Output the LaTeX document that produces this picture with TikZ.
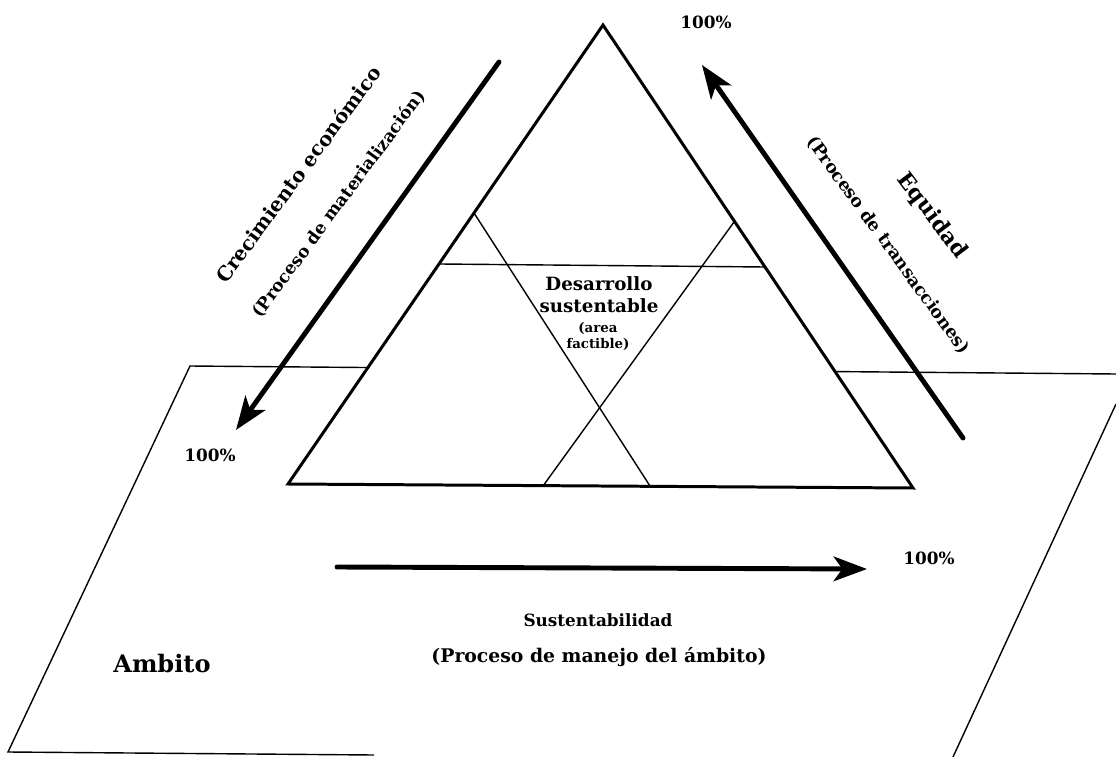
\documentclass[tikz,border=0pt]{standalone}
\usepackage{fontspec}
\setmainfont{DejaVu Serif}
\usetikzlibrary{arrows.meta}
\newcommand\myfs[1]{\bfseries\fontsize{#1}{1.2\dimexpr#1pt\relax}\selectfont}
\begin{document}
\begin{tikzpicture}[x=0.02cm,y=-0.02cm,
  thickline/.style={line width=1.7pt, line join=miter},
  thinline/.style={line width=0.8pt},
  planeline/.style={line width=0.8pt},
  bigarrow/.style={line width=2.8pt, line cap=round, -{Stealth[length=19pt,width=14pt,inset=5pt]}},
  lbl/.style={inner sep=0pt}]
\useasboundingbox (0,0) rectangle (1116,757);
% plane (ambito)
\coordinate (P1) at (190,366);
\coordinate (P2) at (1116,374);
\coordinate (P3) at (1116,404);
\coordinate (P4) at (953,757);
\coordinate (P5) at (8,752);
\coordinate (P6) at (374,755);
\draw[planeline] (P6) -- (P5) -- (P1) -- (P2);
\draw[planeline] (P3) -- (P4);
% triangle
\coordinate (A) at (603,25);
\coordinate (B) at (288,484);
\coordinate (C) at (913,488);
\draw[thickline, fill=white] (A) -- (B) -- (C) -- cycle;
\coordinate (L1) at (474,213);
\coordinate (L2) at (650,486);
\coordinate (R1) at (734,222);
\coordinate (R2) at (543,486);
\coordinate (H1) at (440,264);
\coordinate (H2) at (765,267);
\draw[thinline] (L1) -- (L2);
\draw[thinline] (R1) -- (R2);
\draw[thinline] (H1) -- (H2);
% arrows
\coordinate (LA1) at (499,62);
\coordinate (LA2) at (236,430);
\coordinate (RA1) at (963,438);
\coordinate (RA2) at (702,65);
\coordinate (BA1) at (337,567);
\coordinate (BA2) at (867,569);
\draw[bigarrow] (LA1) -- (LA2);
\draw[bigarrow] (RA1) -- (RA2);
\draw[bigarrow] (BA1) -- (BA2);
% labels
\node[lbl, rotate=53.5, font=\myfs{11.3}] (crec) at (298,174) {Crecimiento económico};
\node[lbl, rotate=53.5, font=\myfs{9.8}] (mat) at (339,204) {(Proceso de materialización)};
\node[lbl, rotate=-53, font=\myfs{12.4}] (equi) at (932,216) {Equidad};
\node[lbl, rotate=-54, font=\myfs{9.9}] (trans) at (888,245) {(Proceso de transacciones)};
\node[lbl, align=center, font=\myfs{10.4}] (des) at (599,295) {Desarrollo\\sustentable};
\node[lbl, align=center, font=\myfs{7.6}] (area) at (598,336) {(area\\factible)};
\node[lbl, font=\myfs{9.6}] (top) at (706,22) {100\%};
\node[lbl, font=\myfs{9.6}] (left) at (210,455) {100\%};
\node[lbl, font=\myfs{9.6}] (right) at (929,558) {100\%};
\node[lbl, font=\myfs{9.6}] (sus) at (598,620) {Sustentabilidad};
\node[lbl, font=\myfs{10.7}] (man) at (599,657) {(Proceso de manejo del ámbito)};
\node[lbl, font=\myfs{13.7}] (amb) at (162,664) {Ambito};
\end{tikzpicture}
\end{document}
